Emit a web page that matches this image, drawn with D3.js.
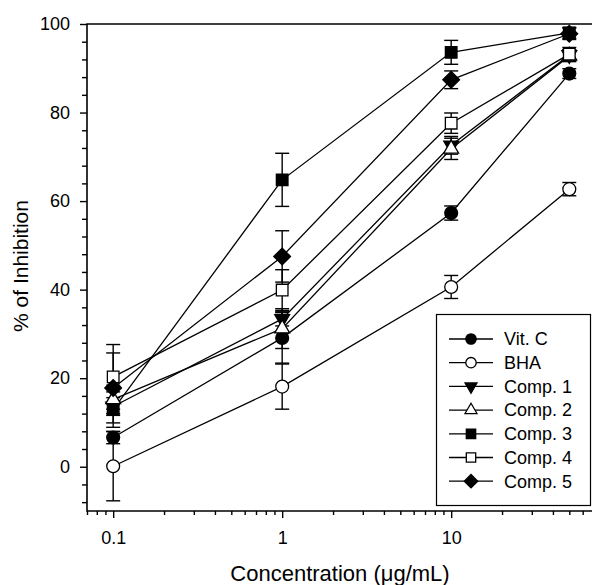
<!DOCTYPE html>
<html>
<head>
<meta charset="utf-8">
<script src="https://cdn.jsdelivr.net/npm/d3@7"></script>
<style>
  body { margin: 0; background: #fff; }
  svg { display: block; font-family: "Liberation Sans", Arial, sans-serif; }
</style>
</head>
<body>
<svg width="592" height="585"></svg>
<script>
// concentrations (µg/mL)
const concentrations = [0.1, 1, 10, 50];
const seriesNames = ['Vit. C', 'BHA', 'Comp. 1', 'Comp. 2', 'Comp. 3', 'Comp. 4', 'Comp. 5'];
const vitC   = [6.6, 29.1, 57.3, 88.8];
const bha    = [0.1, 18.1, 40.6, 62.7];
const comp1  = [13.6, 33.4, 72.6, 93.0];
const comp2  = [15.2, 31.2, 71.8, 92.8];
const comp3  = [12.9, 64.8, 93.6, 98.0];
const comp4  = [20.3, 39.9, 77.6, 93.2];
const comp5  = [17.8, 47.5, 87.4, 97.8];
const vitCErr  = [1.4, 5.7, 1.6, 1.1];
const bhaErr   = [7.8, 5.1, 2.6, 1.5];
const comp1Err = [2.0, 1.6, 2.0, 1.2];
const comp2Err = [3.2, 4.5, 2.4, 1.3];
const comp3Err = [4.0, 6.0, 2.7, 1.2];
const comp4Err = [7.3, 4.6, 2.3, 1.5];
const comp5Err = [7.9, 5.8, 2.0, 1.3];
const yMajorTicks = [0, 20, 40, 60, 80, 100];
const xMajorTicks = [0.1, 1, 10];

const values = [vitC, bha, comp1, comp2, comp3, comp4, comp5];
const errors = [vitCErr, bhaErr, comp1Err, comp2Err, comp3Err, comp4Err, comp5Err];
// marker style per series
const markers = [
    { type: d3.symbolCircle, size: 130, fill: '#000', rot: 0 },
    { type: d3.symbolCircle, size: 130, fill: '#fff', rot: 0 },
    { type: d3.symbolTriangle, size: 95, fill: '#000', rot: 180 },
    { type: d3.symbolTriangle, size: 95, fill: '#fff', rot: 0 },
    { type: d3.symbolSquare, size: 135, fill: '#000', rot: 0 },
    { type: d3.symbolSquare, size: 135, fill: '#fff', rot: 0 },
    { type: d3.symbolSquare, size: 140, fill: '#000', rot: 45 }
];

const svg = d3.select('svg');
const plot = { left: 87, right: 594, top: 24, bottom: 511 };

const x = d3.scaleLog().domain([0.07, 70]).range([plot.left, plot.right]);
const y = d3.scaleLinear().domain([-10, 100]).range([plot.bottom, plot.top]);

// minor tick values
const xMinor = [];
[0.01, 0.1, 1, 10].forEach((dec) => {
    for (let k = 2; k <= 9; k++) {
        const v = dec * k;
        if (v >= 0.07 && v <= 70) xMinor.push(v);
    }
});
const yMinor = d3.range(-8, 100, 4).filter((v) => v % 20 !== 0);

// axes
svg.append('g')
    .attr('transform', 'translate(0,' + plot.bottom + ')')
    .call(d3.axisBottom(x).tickValues(xMinor).tickSize(4).tickFormat(''))
    .call((g) => g.select('.domain').remove());
svg.append('g')
    .attr('transform', 'translate(0,' + plot.bottom + ')')
    .call(d3.axisBottom(x).tickValues(xMajorTicks).tickSize(7).tickPadding(13)
        .tickFormat((d) => d))
    .call((g) => g.select('.domain').remove());
svg.append('g')
    .attr('transform', 'translate(' + plot.left + ',0)')
    .call(d3.axisLeft(y).tickValues(yMinor).tickSize(5).tickFormat(''))
    .call((g) => g.select('.domain').remove());
svg.append('g')
    .attr('transform', 'translate(' + plot.left + ',0)')
    .call(d3.axisLeft(y).tickValues(yMajorTicks).tickSize(7).tickPadding(10))
    .call((g) => g.select('.domain').remove());

svg.selectAll('.tick line').attr('stroke', '#000').attr('stroke-width', 1.4);
svg.selectAll('.tick text').attr('font-size', 18).attr('fill', '#000')
    .attr('font-family', '"Liberation Sans", Arial, sans-serif');

// frame
svg.append('path')
    .attr('d', 'M' + plot.right + ',' + plot.top + 'H' + plot.left + 'V' + plot.bottom + 'H' + plot.right)
    .attr('fill', 'none')
    .attr('stroke', '#000')
    .attr('stroke-width', 1.6);

// lines
const line = d3.line()
    .x((d, i) => x(concentrations[i]))
    .y((d) => y(d));
values.forEach((vals) => {
    svg.append('path')
        .attr('d', line(vals))
        .attr('fill', 'none')
        .attr('stroke', '#000')
        .attr('stroke-width', 1.3);
});

// error bars
const cap = 7;
values.forEach((vals, s) => {
    const g = svg.append('g').attr('stroke', '#000').attr('stroke-width', 1.4);
    vals.forEach((v, i) => {
        const cx = x(concentrations[i]);
        const lo = y(v - errors[s][i]), hi = y(v + errors[s][i]);
        g.append('line').attr('x1', cx).attr('x2', cx).attr('y1', lo).attr('y2', hi);
        g.append('line').attr('x1', cx - cap).attr('x2', cx + cap).attr('y1', lo).attr('y2', lo);
        g.append('line').attr('x1', cx - cap).attr('x2', cx + cap).attr('y1', hi).attr('y2', hi);
    });
});

// markers
function drawMarker(g, m, cx, cy, scale) {
    g.append('path')
        .attr('d', d3.symbol().type(m.type).size(m.size * scale)())
        .attr('transform', 'translate(' + cx + ',' + cy + ') rotate(' + m.rot + ')')
        .attr('fill', m.fill)
        .attr('stroke', '#000')
        .attr('stroke-width', 1.3);
}
values.forEach((vals, s) => {
    const g = svg.append('g');
    vals.forEach((v, i) => drawMarker(g, markers[s], x(concentrations[i]), y(v), 1));
});

// legend
const legend = svg.append('g');
legend.append('rect')
    .attr('x', 436.5).attr('y', 314.5)
    .attr('width', 154).attr('height', 191)
    .attr('fill', '#fff')
    .attr('stroke', '#000')
    .attr('stroke-width', 1.2);
seriesNames.forEach((name, i) => {
    const ly = 339 + i * 23.7;
    legend.append('line')
        .attr('x1', 449).attr('x2', 493).attr('y1', ly).attr('y2', ly)
        .attr('stroke', '#000').attr('stroke-width', 1.3);
    drawMarker(legend, markers[i], 471, ly, 0.65);
    legend.append('text')
        .attr('x', 504).attr('y', ly)
        .attr('dy', '0.35em')
        .attr('font-size', 18)
        .text(name);
});

// axis titles
svg.append('text')
    .attr('x', 340).attr('y', 581)
    .attr('text-anchor', 'middle')
    .attr('font-size', 22)
    .text('Concentration (μg/mL)');
svg.append('text')
    .attr('transform', 'translate(28,266) rotate(-90)')
    .attr('text-anchor', 'middle')
    .attr('font-size', 21)
    .text('% of Inhibition');
</script>
</body>
</html>
